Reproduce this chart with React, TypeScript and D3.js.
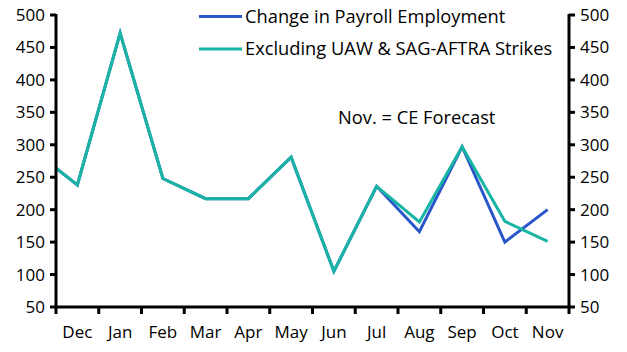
import React from 'react';
import * as d3 from 'd3';

const months = ['Dec', 'Jan', 'Feb', 'Mar', 'Apr', 'May', 'Jun', 'Jul', 'Aug', 'Sep', 'Oct', 'Nov'];
// index -1 is the previous November, clipped at the left axis
const payroll = [290, 238, 472, 248, 217, 217, 281, 105, 236, 166, 297, 150, 200];
const exStrikes = [290, 238, 472, 248, 217, 217, 281, 105, 236, 181, 297, 182, 151];
const yTicks = [50, 100, 150, 200, 250, 300, 350, 400, 450, 500];

const W = 627;
const H = 352;
const margin = { left: 56, right: 58, top: 15, bottom: 45 };
const font = '"Open Sans", Lato, sans-serif';
const blue = '#2956c8';
const teal = '#18b4a4';

export default function App() {
  const x0 = margin.left;
  const x1 = W - margin.right;
  const y0 = H - margin.bottom;
  const y1 = margin.top;

  const x = d3.scaleLinear().domain([-0.5, months.length - 0.5]).range([x0, x1]);
  const y = d3.scaleLinear().domain([50, 500]).range([y0, y1]);

  const line = d3.line<number>()
    .x((_, i) => x(i - 1))
    .y(d => y(d));

  const bounds = d3.range(months.length + 1).map(i => x(i - 0.5));

  return (
    <svg width={W} height={H} style={{ position: 'absolute', left: 0, top: 0, background: '#fff' }}>
      <defs>
        <clipPath id="plot">
          <rect x={x0} y={0} width={x1 - x0} height={H} />
        </clipPath>
      </defs>

      <g clipPath="url(#plot)" fill="none" strokeWidth={3} strokeLinejoin="miter">
        <path d={line(payroll) || ''} stroke={blue} />
        <path d={line(exStrikes) || ''} stroke={teal} />
      </g>

      {/* axes */}
      <g stroke="#000" strokeWidth={3}>
        <line x1={x0} x2={x0} y1={y1 - 1} y2={y0} />
        <line x1={x1} x2={x1} y1={y1 - 1} y2={y0} />
        <line x1={x0 - 1.5} x2={x1 + 1.5} y1={y0} y2={y0} />
        {yTicks.map(t => (
          <g key={t}>
            <line x1={x0 - 6} x2={x0} y1={y(t)} y2={y(t)} />
            <line x1={x1} x2={x1 + 6} y1={y(t)} y2={y(t)} />
          </g>
        ))}
        {bounds.map((b, i) => (
          <line key={i} x1={b} x2={b} y1={y0} y2={y0 + 7} />
        ))}
      </g>

      <g fontFamily={font} fontSize={17} fill="#000">
        {yTicks.map(t => (
          <g key={t}>
            <text x={x0 - 11} y={y(t)} dy="0.35em" textAnchor="end">{t}</text>
            <text x={x1 + 11} y={y(t)} dy="0.35em">{t}</text>
          </g>
        ))}
        {months.map((m, i) => (
          <text key={m} x={x(i)} y={y0 + 25} dy="0.35em" textAnchor="middle">{m}</text>
        ))}
      </g>

      <g fontFamily={font} fontSize={18.3} fill="#000">
        <line x1={199} x2={242} y1={16.5} y2={16.5} stroke={blue} strokeWidth={3} />
        <text x={245} y={16.5} dy="0.35em">Change in Payroll Employment</text>
        <line x1={199} x2={242} y1={49} y2={49} stroke={teal} strokeWidth={3} />
        <text x={245} y={49} dy="0.35em">Excluding UAW &amp; SAG-AFTRA Strikes</text>

        <text x={338} y={118} dy="0.35em">Nov. = CE Forecast</text>
      </g>
    </svg>
  );
}
